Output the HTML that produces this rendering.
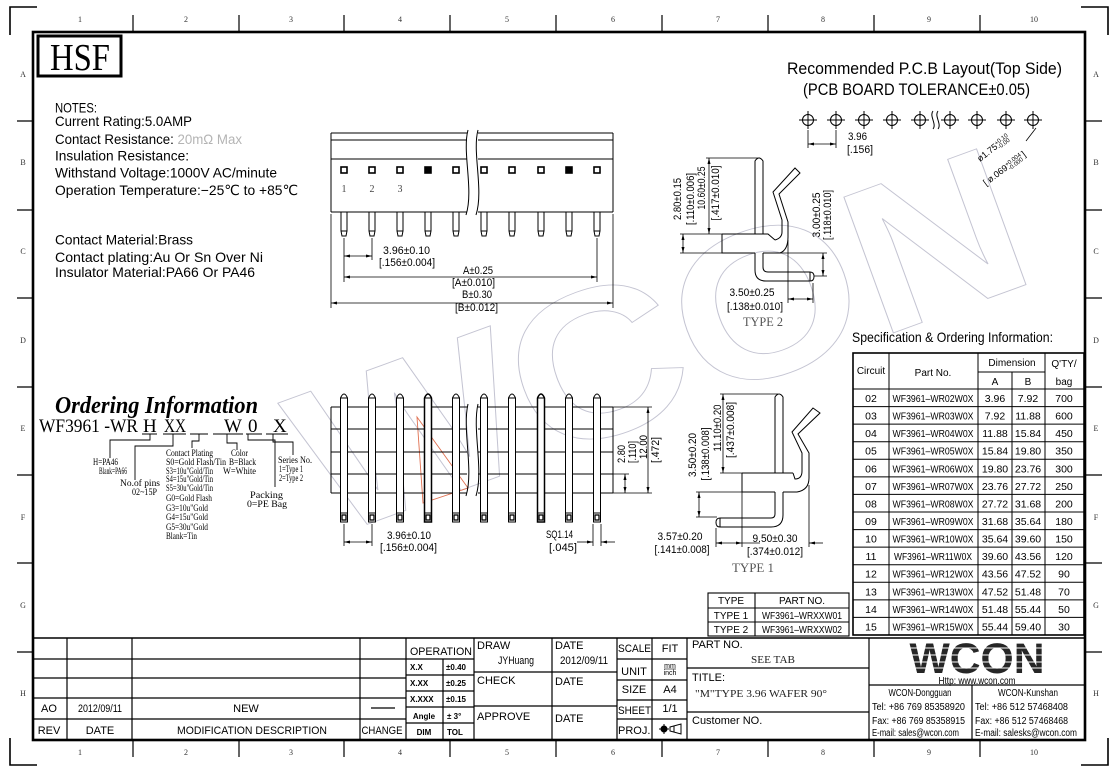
<!DOCTYPE html>
<html><head><meta charset="utf-8">
<style>
html,body{margin:0;padding:0;background:#fff;}
svg{display:block;}
.s{font-family:"Liberation Sans","DejaVu Sans",sans-serif;}
.r{font-family:"Liberation Serif","DejaVu Serif",serif;}
</style></head><body>
<svg width="1116" height="774" viewBox="0 0 1116 774" xmlns="http://www.w3.org/2000/svg">
<defs>
<marker id="ar" markerUnits="userSpaceOnUse" viewBox="0 0 8 4" refX="8" refY="2" markerWidth="7" markerHeight="3" orient="auto-start-reverse"><path d="M0,0 L8,2 L0,4z" fill="#000"/></marker>
</defs>
<rect width="1116" height="774" fill="#fff"/>

<!-- watermark -->
<text class="s" transform="translate(327,539) rotate(-20)" font-size="210" font-weight="bold" fill="none" stroke="#c4c4d2" stroke-width="0.9" textLength="760" lengthAdjust="spacingAndGlyphs">WCON</text>
<polygon points="417,417 468,488 423,503" fill="none" stroke="#e07050" stroke-width="0.9"/>

<!-- frame -->
<g fill="none" stroke="#000">
<rect x="33" y="32" width="1052" height="708" stroke-width="2.6"/>
<path stroke-width="1.6" d="M10,35V7H37M1081,7H1108V35M10,738V765H37M1081,765H1108V738"/>
<path stroke-width="1.2" d="M133,15V32M239,15V32M344,15V32M450,15V32M556,15V32M662,15V32M768,15V32M874,15V32M980,15V32
M133,740V757M239,740V757M344,740V757M450,740V757M556,740V757M662,740V757M768,740V757M874,740V757M980,740V757
M17,121H33M17,210H33M17,298H33M17,387H33M17,475H33M17,563H33M17,652H33
M1085,121H1102M1085,210H1102M1085,298H1102M1085,387H1102M1085,475H1102M1085,563H1102M1085,652H1102"/>
</g>
<g class="r" font-size="8" fill="#333" text-anchor="middle">
<text x="80" y="22">1</text><text x="186" y="22">2</text><text x="291" y="22">3</text><text x="400" y="22">4</text><text x="507" y="22">5</text><text x="613" y="22">6</text><text x="718" y="22">7</text><text x="823" y="22">8</text><text x="929" y="22">9</text><text x="1034" y="22">10</text>
<text x="80" y="755">1</text><text x="186" y="755">2</text><text x="291" y="755">3</text><text x="400" y="755">4</text><text x="507" y="755">5</text><text x="613" y="755">6</text><text x="718" y="755">7</text><text x="823" y="755">8</text><text x="929" y="755">9</text><text x="1034" y="755">10</text>
<text x="23" y="77">A</text><text x="23" y="165">B</text><text x="23" y="254">C</text><text x="23" y="343">D</text><text x="23" y="431">E</text><text x="23" y="520">F</text><text x="23" y="608">G</text><text x="23" y="696">H</text>
<text x="1096" y="77">A</text><text x="1096" y="165">B</text><text x="1096" y="254">C</text><text x="1096" y="343">D</text><text x="1096" y="431">E</text><text x="1096" y="520">F</text><text x="1096" y="608">G</text><text x="1096" y="696">H</text>
</g>

<!-- HSF -->
<rect x="38" y="36" width="83" height="40" fill="none" stroke="#000" stroke-width="3"/>
<text class="r" x="80" y="70" font-size="38" text-anchor="middle" textLength="60" lengthAdjust="spacingAndGlyphs">HSF</text>

<!-- notes -->
<g class="s" font-size="14" fill="#000">
<text x="55" y="112.5" textLength="42" lengthAdjust="spacingAndGlyphs">NOTES:</text>
<text x="55" y="126" textLength="137" lengthAdjust="spacingAndGlyphs">Current Rating:5.0AMP</text>
<text x="55" y="144" textLength="187" lengthAdjust="spacingAndGlyphs">Contact Resistance:<tspan fill="#b4b4b4"> 20mΩ Max</tspan></text>
<text x="55" y="160.5" textLength="134" lengthAdjust="spacingAndGlyphs">Insulation Resistance:</text>
<text x="55" y="177.5" textLength="222" lengthAdjust="spacingAndGlyphs">Withstand Voltage:1000V AC/minute</text>
<text x="55" y="195" textLength="243" lengthAdjust="spacingAndGlyphs">Operation Temperature:−25℃ to +85℃</text>
<text x="55" y="244.5" textLength="138" lengthAdjust="spacingAndGlyphs">Contact Material:Brass</text>
<text x="55" y="262" textLength="208" lengthAdjust="spacingAndGlyphs">Contact plating:Au Or Sn Over Ni</text>
<text x="55" y="277" textLength="200" lengthAdjust="spacingAndGlyphs">Insulator Material:PA66 Or PA46</text>
</g>

<!-- top center drawing -->
<g fill="none" stroke="#000" stroke-width="1">
<path d="M331,133H467M331,140H467M331,159H467M331,212H467M478,133H613M478,140H613M478,159H613M478,212H613M331,133V212M613,133V212"/>
<path d="M468,130C462,152 474,190 466,215M478,130C472,152 484,190 476,215"/>
<path d="M341,212V231L342,236H346L347,231V212M341,231H347
M369,212V231L370,236H374L375,231V212M369,231H375
M397,212V231L398,236H402L403,231V212M397,231H403
M425,212V231L426,236H430L431,231V212M425,231H431
M453,212V231L454,236H458L459,231V212M453,231H459
M481,212V231L482,236H486L487,231V212M481,231H487
M509,212V231L510,236H514L515,231V212M509,231H515
M538,212V231L539,236H543L544,231V212M538,231H544
M566,212V231L567,236H571L572,231V212M566,231H572
M594,212V231L595,236H599L600,231V212M594,231H600"/>
<g stroke-width="1.6" fill="#fff">
<rect x="341" y="167" width="6" height="6"/><rect x="369" y="167" width="6" height="6"/><rect x="397" y="167" width="6" height="6"/><rect x="425" y="167" width="6" height="6" fill="#000"/><rect x="453" y="167" width="6" height="6"/><rect x="481" y="167" width="6" height="6"/><rect x="509" y="167" width="6" height="6"/><rect x="538" y="167" width="6" height="6"/><rect x="566" y="167" width="6" height="6" fill="#000"/><rect x="594" y="167" width="6" height="6"/>
</g>
<path stroke-width="0.8" d="M344,238V282M372,238V260M597,238V282M331,214V308M613,214V308"/>
<path stroke-width="0.8" marker-start="url(#ar)" marker-end="url(#ar)" d="M344,256H372"/>
<path stroke-width="0.8" marker-start="url(#ar)" marker-end="url(#ar)" d="M344,277H597"/>
<path stroke-width="0.8" marker-start="url(#ar)" marker-end="url(#ar)" d="M331,303H613"/>
</g>
<g class="r" font-size="10" fill="#444" text-anchor="middle"><text x="344" y="192">1</text><text x="372" y="192">2</text><text x="400" y="192">3</text></g>
<g class="s" font-size="11">
<text x="383" y="254" textLength="47" lengthAdjust="spacingAndGlyphs">3.96±0.10</text>
<text x="379" y="266" textLength="56" lengthAdjust="spacingAndGlyphs">[.156±0.004]</text>
<text x="463" y="274" textLength="30" lengthAdjust="spacingAndGlyphs">A±0.25</text>
<text x="452" y="286" textLength="43" lengthAdjust="spacingAndGlyphs">[A±0.010]</text>
<text x="462" y="298" textLength="30" lengthAdjust="spacingAndGlyphs">B±0.30</text>
<text x="455" y="311" textLength="43" lengthAdjust="spacingAndGlyphs">[B±0.012]</text>
</g>

<!-- PCB layout -->
<g class="s" font-size="17">
<text x="787" y="74" textLength="275" lengthAdjust="spacingAndGlyphs">Recommended P.C.B Layout(Top Side)</text>
<text x="803" y="95" textLength="227" lengthAdjust="spacingAndGlyphs">(PCB BOARD TOLERANCE±0.05)</text>
</g>
<g fill="none" stroke="#000" stroke-width="1">
<circle cx="808" cy="120" r="5.5"/><circle cx="836" cy="120" r="5.5"/><circle cx="864" cy="120" r="5.5"/><circle cx="892" cy="120" r="5.5"/><circle cx="920" cy="120" r="5.5"/><circle cx="950" cy="120" r="5.5"/><circle cx="977" cy="120" r="5.5"/><circle cx="1006" cy="120" r="5.5"/><circle cx="1033" cy="120" r="5.5"/>
<path d="M799,120H817M808,111V129M827,120H845M836,111V129M855,120H873M864,111V129M883,120H901M892,111V129M911,120H929M920,111V129M941,120H959M950,111V129M968,120H986M977,111V129M997,120H1015M1006,111V129M1024,120H1042M1033,111V129"/>
<path d="M933,111C929,116 937,124 933,129M938,111C934,116 942,124 938,129"/>
<path stroke-width="0.8" d="M808,130V148M836,130V148"/>
<path stroke-width="0.8" marker-start="url(#ar)" marker-end="url(#ar)" d="M808,144H836"/>
<path stroke-width="0.8" d="M1026,141L1036,128"/>
</g>
<g class="s" font-size="11">
<text x="848" y="140" textLength="19" lengthAdjust="spacingAndGlyphs">3.96</text>
<text x="847" y="153" textLength="26" lengthAdjust="spacingAndGlyphs">[.156]</text>
</g>
<g class="s" font-size="9">
<text transform="translate(980,162) rotate(-38)">ø1.75<tspan font-size="6" dy="-3">+0.10</tspan><tspan font-size="6" dx="-15" dy="5">-0.00</tspan></text>
<text transform="translate(986,186) rotate(-37)">[ ø.069<tspan font-size="6" dy="-3">+0.004</tspan><tspan font-size="6" dx="-18" dy="5">-0.000</tspan><tspan dy="-2"> ]</tspan></text>
</g>

<!-- TYPE 2 -->
<g fill="none" stroke="#000" stroke-width="1">
<path d="M755,234V161Q759,155 763,161V234"/>
<path d="M722,234H768L775,240M722,234V253H755M763,253H780Q788,250 788,237V222L779,194L800,173L795,168L773,192L782,220V232Q782,238 775,240"/>
<path d="M755,253V270Q755,281 766,281H810Q814,281 814,276.5Q814,272 810,272H768Q763,272 763,267V253M810,272V281"/>
<path stroke-width="0.8" d="M706,158H760M680,234H722M680,253H722M780,253H827M814,276H827M788,240V303M813,283V303"/>
<path stroke-width="0.8" marker-start="url(#ar)" marker-end="url(#ar)" d="M709,158V234"/>
<path stroke-width="0.8" marker-start="url(#ar)" marker-end="url(#ar)" d="M683,234V253"/>
<path stroke-width="0.8" marker-start="url(#ar)" marker-end="url(#ar)" d="M823,253V276"/>
<path stroke-width="0.8" marker-start="url(#ar)" marker-end="url(#ar)" d="M788,299H813"/>
</g>
<g class="s" font-size="11" text-anchor="middle">
<text transform="translate(681,199) rotate(-90)" textLength="42" lengthAdjust="spacingAndGlyphs">2.80±0.15</text>
<text transform="translate(694,199) rotate(-90)" textLength="52" lengthAdjust="spacingAndGlyphs">[.110±0.006]</text>
<text transform="translate(705,188) rotate(-90)" textLength="43" lengthAdjust="spacingAndGlyphs">10.60±0.25</text>
<text transform="translate(719,193) rotate(-90)" textLength="55" lengthAdjust="spacingAndGlyphs">[.417±0.010]</text>
<text transform="translate(820,215) rotate(-90)" textLength="45" lengthAdjust="spacingAndGlyphs">3.00±0.25</text>
<text transform="translate(831,215) rotate(-90)" textLength="50" lengthAdjust="spacingAndGlyphs">[.118±0.010]</text>
<text x="752" y="296" textLength="45" lengthAdjust="spacingAndGlyphs">3.50±0.25</text>
<text x="755" y="310" textLength="56" lengthAdjust="spacingAndGlyphs">[.138±0.010]</text>
</g>
<text class="r" x="763" y="326" font-size="13" fill="#555" text-anchor="middle" textLength="40" lengthAdjust="spacingAndGlyphs">TYPE 2</text>

<!-- Spec table -->
<text class="s" x="852" y="342" font-size="14" textLength="201" lengthAdjust="spacingAndGlyphs">Specification &amp; Ordering Information:</text>
<g fill="none" stroke="#000">
<rect x="853" y="353" width="231" height="282" stroke-width="1.6"/>
<path stroke-width="1" d="M889,353V635M978,353V635M1045,353V635M1012,372V635M978,372H1045M853,389H1084
M853,406.6H1084M853,424.1H1084M853,441.7H1084M853,459.3H1084M853,476.9H1084M853,494.4H1084M853,512H1084M853,529.6H1084M853,547.1H1084M853,564.7H1084M853,582.3H1084M853,599.9H1084M853,617.4H1084"/>
</g>
<g class="s" font-size="10" text-anchor="middle">
<text x="871" y="374">Circuit</text><text x="933" y="376">Part No.</text><text x="1012" y="366">Dimension</text><text x="1064" y="367">Q'TY/</text>
<text x="995" y="385">A</text><text x="1028" y="385">B</text><text x="1064" y="385">bag</text>
</g>
<g class="s" font-size="10.5" text-anchor="middle">
<text x="871" y="402">02</text><text x="933" y="402" textLength="81" lengthAdjust="spacingAndGlyphs">WF3961–WR02W0X</text><text x="995" y="402">3.96</text><text x="1028" y="402">7.92</text><text x="1064" y="402">700</text>
<text x="871" y="419.6">03</text><text x="933" y="419.6" textLength="81" lengthAdjust="spacingAndGlyphs">WF3961–WR03W0X</text><text x="995" y="419.6">7.92</text><text x="1028" y="419.6">11.88</text><text x="1064" y="419.6">600</text>
<text x="871" y="437.1">04</text><text x="933" y="437.1" textLength="81" lengthAdjust="spacingAndGlyphs">WF3961–WR04W0X</text><text x="995" y="437.1">11.88</text><text x="1028" y="437.1">15.84</text><text x="1064" y="437.1">450</text>
<text x="871" y="454.7">05</text><text x="933" y="454.7" textLength="81" lengthAdjust="spacingAndGlyphs">WF3961–WR05W0X</text><text x="995" y="454.7">15.84</text><text x="1028" y="454.7">19.80</text><text x="1064" y="454.7">350</text>
<text x="871" y="472.3">06</text><text x="933" y="472.3" textLength="81" lengthAdjust="spacingAndGlyphs">WF3961–WR06W0X</text><text x="995" y="472.3">19.80</text><text x="1028" y="472.3">23.76</text><text x="1064" y="472.3">300</text>
<text x="871" y="489.9">07</text><text x="933" y="489.9" textLength="81" lengthAdjust="spacingAndGlyphs">WF3961–WR07W0X</text><text x="995" y="489.9">23.76</text><text x="1028" y="489.9">27.72</text><text x="1064" y="489.9">250</text>
<text x="871" y="507.4">08</text><text x="933" y="507.4" textLength="81" lengthAdjust="spacingAndGlyphs">WF3961–WR08W0X</text><text x="995" y="507.4">27.72</text><text x="1028" y="507.4">31.68</text><text x="1064" y="507.4">200</text>
<text x="871" y="525">09</text><text x="933" y="525" textLength="81" lengthAdjust="spacingAndGlyphs">WF3961–WR09W0X</text><text x="995" y="525">31.68</text><text x="1028" y="525">35.64</text><text x="1064" y="525">180</text>
<text x="871" y="542.6">10</text><text x="933" y="542.6" textLength="81" lengthAdjust="spacingAndGlyphs">WF3961–WR10W0X</text><text x="995" y="542.6">35.64</text><text x="1028" y="542.6">39.60</text><text x="1064" y="542.6">150</text>
<text x="871" y="560.1">11</text><text x="933" y="560.1" textLength="78" lengthAdjust="spacingAndGlyphs">WF3961–WR11W0X</text><text x="995" y="560.1">39.60</text><text x="1028" y="560.1">43.56</text><text x="1064" y="560.1">120</text>
<text x="871" y="577.7">12</text><text x="933" y="577.7" textLength="81" lengthAdjust="spacingAndGlyphs">WF3961–WR12W0X</text><text x="995" y="577.7">43.56</text><text x="1028" y="577.7">47.52</text><text x="1064" y="577.7">90</text>
<text x="871" y="595.3">13</text><text x="933" y="595.3" textLength="81" lengthAdjust="spacingAndGlyphs">WF3961–WR13W0X</text><text x="995" y="595.3">47.52</text><text x="1028" y="595.3">51.48</text><text x="1064" y="595.3">70</text>
<text x="871" y="612.9">14</text><text x="933" y="612.9" textLength="81" lengthAdjust="spacingAndGlyphs">WF3961–WR14W0X</text><text x="995" y="612.9">51.48</text><text x="1028" y="612.9">55.44</text><text x="1064" y="612.9">50</text>
<text x="871" y="630.4">15</text><text x="933" y="630.4" textLength="81" lengthAdjust="spacingAndGlyphs">WF3961–WR15W0X</text><text x="995" y="630.4">55.44</text><text x="1028" y="630.4">59.40</text><text x="1064" y="630.4">30</text>
</g>

<!-- Ordering information -->
<text class="r" x="55" y="413" font-size="24" font-weight="bold" font-style="italic" textLength="203" lengthAdjust="spacingAndGlyphs">Ordering Information</text>
<g class="r" font-size="19">
<text x="39" y="432" textLength="99" lengthAdjust="spacingAndGlyphs">WF3961 -WR</text>
<text x="143" y="432">H</text>
<text x="164" y="432" textLength="22" lengthAdjust="spacingAndGlyphs">XX</text>
<text x="224" y="432">W</text>
<text x="248" y="432">0</text>
<text x="273" y="432">X</text>
</g>
<g fill="none" stroke="#000" stroke-width="0.9">
<path d="M142,434H157M163,434H186M190,434H208M213,434H243M246,434H262M266,434H288"/>
<path d="M150,434V440H110V458M173,434V446H135V480M199,434V441H192V448M227,434V443H237V450M248,434V440H275V487M273,434V442H293V455"/>
</g>
<g class="r" font-size="9.5">
<text x="93" y="465" textLength="25" lengthAdjust="spacingAndGlyphs">H=PA46</text>
<text x="99" y="474" textLength="28" lengthAdjust="spacingAndGlyphs">Blank=PA66</text>
<text x="120" y="486" textLength="40" lengthAdjust="spacingAndGlyphs">No.of pins</text>
<text x="132" y="495" textLength="25" lengthAdjust="spacingAndGlyphs">02~15P</text>
<text x="166" y="456" textLength="47" lengthAdjust="spacingAndGlyphs">Contact Plating</text>
<text x="166" y="465" textLength="60" lengthAdjust="spacingAndGlyphs">S0=Gold Flash/Tin</text>
<text x="166" y="474" textLength="47" lengthAdjust="spacingAndGlyphs">S3=10u"Gold/Tin</text>
<text x="166" y="482" textLength="47" lengthAdjust="spacingAndGlyphs">S4=15u"Gold/Tin</text>
<text x="166" y="491" textLength="47" lengthAdjust="spacingAndGlyphs">S5=30u"Gold/Tin</text>
<text x="166" y="501" textLength="46" lengthAdjust="spacingAndGlyphs">G0=Gold Flash</text>
<text x="166" y="511" textLength="42" lengthAdjust="spacingAndGlyphs">G3=10u"Gold</text>
<text x="166" y="520" textLength="42" lengthAdjust="spacingAndGlyphs">G4=15u"Gold</text>
<text x="166" y="530" textLength="42" lengthAdjust="spacingAndGlyphs">G5=30u"Gold</text>
<text x="166" y="539" textLength="31" lengthAdjust="spacingAndGlyphs">Blank=Tin</text>
<text x="231" y="456" textLength="17" lengthAdjust="spacingAndGlyphs">Color</text>
<text x="229" y="465" textLength="27" lengthAdjust="spacingAndGlyphs">B=Black</text>
<text x="223" y="474" textLength="33" lengthAdjust="spacingAndGlyphs">W=White</text>
<text x="278" y="463" textLength="34" lengthAdjust="spacingAndGlyphs">Series No.</text>
<text x="279" y="472" textLength="24" lengthAdjust="spacingAndGlyphs">1=Type 1</text>
<text x="279" y="481" textLength="24" lengthAdjust="spacingAndGlyphs">2=Type 2</text>
<text x="250" y="498" textLength="33" lengthAdjust="spacingAndGlyphs">Packing</text>
<text x="247" y="507" textLength="40" lengthAdjust="spacingAndGlyphs">0=PE Bag</text>
</g>

<!-- middle bottom drawing -->
<g fill="none" stroke="#000" stroke-width="1">
<path d="M331,407H467M331,429H467M331,452H467M331,474H467M331,493H467M478,407H613M478,429H613M478,452H613M478,474H613M478,493H613M331,407V493M613,407V493"/>
<path d="M468,404C462,430 474,470 466,496M478,404C472,430 484,470 476,496"/>
<g fill="#fff">
<path d="M340.5,522V398Q344,390 347.5,398V522Z"/>
<path d="M368.5,522V398Q372,390 375.5,398V522Z"/>
<path d="M396.5,522V398Q400,390 403.5,398V522Z"/>
<path d="M424.5,522V398Q428,390 431.5,398V522Z" stroke-width="1.5"/>
<path d="M452.5,522V398Q456,390 459.5,398V522Z"/>
<path d="M480.5,522V398Q484,390 487.5,398V522Z"/>
<path d="M508.5,522V398Q512,390 515.5,398V522Z"/>
<path d="M537.5,522V398Q541,390 544.5,398V522Z" stroke-width="1.5"/>
<path d="M565.5,522V398Q569,390 572.5,398V522Z"/>
<path d="M593.5,522V398Q597,390 600.5,398V522Z"/>
</g>
<path d="M340.5,513H347.5M368.5,513H375.5M396.5,513H403.5M424.5,513H431.5M452.5,513H459.5M480.5,513H487.5M508.5,513H515.5M537.5,513H544.5M565.5,513H572.5M593.5,513H600.5
M340.5,398H347.5M368.5,398H375.5M396.5,398H403.5M424.5,398H431.5M452.5,398H459.5M480.5,398H487.5M508.5,398H515.5M537.5,398H544.5M565.5,398H572.5M593.5,398H600.5"/>
<g stroke-width="1.3"><rect x="342" y="515" width="4" height="5"/><rect x="370" y="515" width="4" height="5"/><rect x="398" y="515" width="4" height="5"/><rect x="426" y="515" width="4" height="5"/><rect x="454" y="515" width="4" height="5"/><rect x="482" y="515" width="4" height="5"/><rect x="510" y="515" width="4" height="5"/><rect x="539" y="515" width="4" height="5"/><rect x="567" y="515" width="4" height="5"/><rect x="595" y="515" width="4" height="5"/></g>
<path stroke-width="0.8" d="M613,407H652M613,474H629M613,493H652M344,524V546M372,524V546M593,524V546M601,524V546"/>
<path stroke-width="0.8" marker-start="url(#ar)" marker-end="url(#ar)" d="M625,474V493"/>
<path stroke-width="0.8" marker-start="url(#ar)" marker-end="url(#ar)" d="M648,407V493"/>
<path stroke-width="0.8" marker-start="url(#ar)" marker-end="url(#ar)" d="M344,542H372"/>
<path stroke-width="0.8" marker-end="url(#ar)" d="M577,542H593"/>
<path stroke-width="0.8" marker-end="url(#ar)" d="M615,542H601"/>
</g>
<g class="s" font-size="11">
<text transform="translate(625,454) rotate(-90)" text-anchor="middle" textLength="18" lengthAdjust="spacingAndGlyphs">2.80</text>
<text transform="translate(636,452) rotate(-90)" text-anchor="middle" textLength="22" lengthAdjust="spacingAndGlyphs">[.110]</text>
<text transform="translate(647,447) rotate(-90)" text-anchor="middle" textLength="24" lengthAdjust="spacingAndGlyphs">12.00</text>
<text transform="translate(659,450) rotate(-90)" text-anchor="middle" textLength="26" lengthAdjust="spacingAndGlyphs">[.472]</text>
<text x="387" y="539" textLength="44" lengthAdjust="spacingAndGlyphs">3.96±0.10</text>
<text x="380" y="551" textLength="57" lengthAdjust="spacingAndGlyphs">[.156±0.004]</text>
<text x="546" y="538" textLength="27" lengthAdjust="spacingAndGlyphs">SQ1.14</text>
<text x="549" y="551" textLength="28" lengthAdjust="spacingAndGlyphs">[.045]</text>
</g>

<!-- TYPE 1 -->
<g fill="none" stroke="#000" stroke-width="1">
<path d="M775,473V397Q779,391 783,397V473"/>
<path d="M742,473H793M742,473V492H775M783,492H797Q809,490 809,478V453L798,434L820,413L813,408L792,432L802,453V471Q802,479 795,479L793,473"/>
<path d="M783,492V515Q783,527 771,527H720Q716,527 716,522.5Q716,518 720,518H771Q775,518 775,514V492M720,518V527"/>
<path stroke-width="0.8" d="M720,394H778M720,473H742M696,492H742M696,517H717M742,492V547M716,528V547M809,485V547"/>
<path stroke-width="0.8" marker-start="url(#ar)" marker-end="url(#ar)" d="M723,394V473"/>
<path stroke-width="0.8" marker-start="url(#ar)" marker-end="url(#ar)" d="M699,492V517"/>
<path stroke-width="0.8" marker-start="url(#ar)" marker-end="url(#ar)" d="M716,543H742"/>
<path stroke-width="0.8" d="M742,543H760"/>
<path stroke-width="0.8" marker-end="url(#ar)" d="M823,543H809"/>
</g>
<g class="s" font-size="11" text-anchor="middle">
<text transform="translate(696,455) rotate(-90)" textLength="44" lengthAdjust="spacingAndGlyphs">3.50±0.20</text>
<text transform="translate(709,454) rotate(-90)" textLength="53" lengthAdjust="spacingAndGlyphs">[.138±0.008]</text>
<text transform="translate(721,428) rotate(-90)" textLength="47" lengthAdjust="spacingAndGlyphs">11.10±0.20</text>
<text transform="translate(734,430) rotate(-90)" textLength="56" lengthAdjust="spacingAndGlyphs">[.437±0.008]</text>
<text x="680" y="540" textLength="45" lengthAdjust="spacingAndGlyphs">3.57±0.20</text>
<text x="682" y="553" textLength="55" lengthAdjust="spacingAndGlyphs">[.141±0.008]</text>
<text x="775" y="542" textLength="45" lengthAdjust="spacingAndGlyphs">9.50±0.30</text>
<text x="775" y="555" textLength="56" lengthAdjust="spacingAndGlyphs">[.374±0.012]</text>
</g>
<text class="r" x="753" y="572" font-size="13" fill="#555" text-anchor="middle" textLength="42" lengthAdjust="spacingAndGlyphs">TYPE 1</text>

<!-- type table -->
<g fill="none" stroke="#000" stroke-width="1.1">
<rect x="708" y="593" width="141" height="43"/>
<path d="M755,593V636M708,608H849M708,622H849"/>
</g>
<g class="s" font-size="10" text-anchor="middle">
<text x="731" y="604">TYPE</text><text x="802" y="604">PART NO.</text>
<text x="731" y="619">TYPE 1</text><text x="802" y="619" textLength="80" lengthAdjust="spacingAndGlyphs">WF3961–WRXXW01</text>
<text x="731" y="633">TYPE 2</text><text x="802" y="633" textLength="80" lengthAdjust="spacingAndGlyphs">WF3961–WRXXW02</text>
</g>

<!-- title block -->
<g stroke="#000" stroke-width="1.2" fill="none">
<path stroke-width="1.6" d="M33,638H1085"/>
<path d="M33,659H406M33,678H406M33,698H406M33,719H406"/>
<path d="M67,638V740M132,638V740M360,638V740M406,638V740"/>
<path d="M406,659H474M406,675H474M406,691H474M406,707H474M406,723H474M443,659V740M474,638V740"/>
<path d="M474,672H617M474,706H617M552,638V740M617,638V740"/>
<path d="M617,659H687M617,680H687M617,700H687M617,719H687M652,638V740M687,638V740"/>
<path d="M687,668H869M687,712H869M869,638V740"/>
<path d="M869,685H1085M972,685V740"/>
<path d="M371,708H395"/>
</g>
<g class="s" font-size="11" text-anchor="middle">
<text x="49" y="712">AO</text>
<text x="100" y="712" textLength="44" lengthAdjust="spacingAndGlyphs">2012/09/11</text>
<text x="246" y="712">NEW</text>
<text x="49" y="734">REV</text>
<text x="100" y="734">DATE</text>
<text x="252" y="734" textLength="150" lengthAdjust="spacingAndGlyphs">MODIFICATION DESCRIPTION</text>
<text x="382" y="734" textLength="41" lengthAdjust="spacingAndGlyphs">CHANGE</text>
<text x="441" y="655" textLength="62" lengthAdjust="spacingAndGlyphs">OPERATION</text>
</g>
<g class="s" font-size="8" font-weight="bold">
<text x="410" y="670">X.X</text><text x="446" y="670">±0.40</text>
<text x="410" y="686">X.XX</text><text x="446" y="686">±0.25</text>
<text x="410" y="702">X.XXX</text><text x="446" y="702">±0.15</text>
<text x="424" y="719" text-anchor="middle">Angle</text><text x="447" y="719">±  3°</text>
<text x="424" y="735" text-anchor="middle">DIM</text><text x="447" y="735">TOL</text>
</g>
<g class="s" font-size="11">
<text x="477" y="649">DRAW</text>
<text x="516" y="664" text-anchor="middle" textLength="36" lengthAdjust="spacingAndGlyphs">JYHuang</text>
<text x="555" y="649">DATE</text>
<text x="584" y="664" text-anchor="middle" textLength="48" lengthAdjust="spacingAndGlyphs">2012/09/11</text>
<text x="477" y="684">CHECK</text>
<text x="555" y="685">DATE</text>
<text x="477" y="720">APPROVE</text>
<text x="555" y="722">DATE</text>
<text x="618" y="652" textLength="33" lengthAdjust="spacingAndGlyphs">SCALE</text>
<text x="670" y="652" text-anchor="middle">FIT</text>
<text x="634" y="675" text-anchor="middle">UNIT</text>
<text x="634" y="693" text-anchor="middle">SIZE</text>
<text x="670" y="693" text-anchor="middle">A4</text>
<text x="618" y="714" textLength="33" lengthAdjust="spacingAndGlyphs">SHEET</text>
<text x="670" y="712" text-anchor="middle">1/1</text>
<text x="618" y="734">PROJ.</text>
<text x="692" y="648">PART NO.</text>
<text x="692" y="681">TITLE:</text>
<text x="692" y="724">Customer NO.</text>
</g>
<g class="s" font-size="7" text-anchor="middle"><text x="670" y="668">mm</text><text x="670" y="675">inch</text></g>
<path d="M664,669H676" stroke="#000" stroke-width="0.6"/>
<g stroke="#000" stroke-width="1"><circle cx="664" cy="729" r="3" fill="#000"/><path d="M659,729H669M664,724V734" fill="none"/><path d="M670,727L681,724V734L670,731Z" fill="none"/><path d="M674,726V732" fill="none"/></g>
<g class="r" font-size="11" fill="#222">
<text x="773" y="663" text-anchor="middle" textLength="44" lengthAdjust="spacingAndGlyphs">SEE TAB</text>
<text x="695" y="697" textLength="132" lengthAdjust="spacingAndGlyphs">"M"TYPE 3.96 WAFER 90°</text>
</g>
<!-- WCON logo -->
<text class="s" x="977" y="673" font-size="43" font-weight="bold" fill="#262626" text-anchor="middle" textLength="135" lengthAdjust="spacingAndGlyphs">WCON</text>
<path d="M905,648H1050M905,655H1050M905,662H1050M905,668H1050" stroke="#fff" stroke-width="1.1"/>
<g class="s" font-size="10">
<text x="977" y="684" text-anchor="middle" textLength="77" lengthAdjust="spacingAndGlyphs">Http: www.wcon.com</text>
<text x="920" y="696" text-anchor="middle" textLength="63" lengthAdjust="spacingAndGlyphs">WCON-Dongguan</text>
<text x="872" y="710" textLength="93" lengthAdjust="spacingAndGlyphs">Tel: +86 769 85358920</text>
<text x="872" y="724" textLength="93" lengthAdjust="spacingAndGlyphs">Fax: +86 769 85358915</text>
<text x="872" y="736" textLength="87" lengthAdjust="spacingAndGlyphs">E-mail: sales@wcon.com</text>
<text x="1028" y="696" text-anchor="middle" textLength="60" lengthAdjust="spacingAndGlyphs">WCON-Kunshan</text>
<text x="975" y="710" textLength="93" lengthAdjust="spacingAndGlyphs">Tel: +86 512 57468408</text>
<text x="975" y="724" textLength="93" lengthAdjust="spacingAndGlyphs">Fax: +86 512 57468468</text>
<text x="975" y="736" textLength="102" lengthAdjust="spacingAndGlyphs">E-mail: salesks@wcon.com</text>
</g>
</svg>
</body></html>
